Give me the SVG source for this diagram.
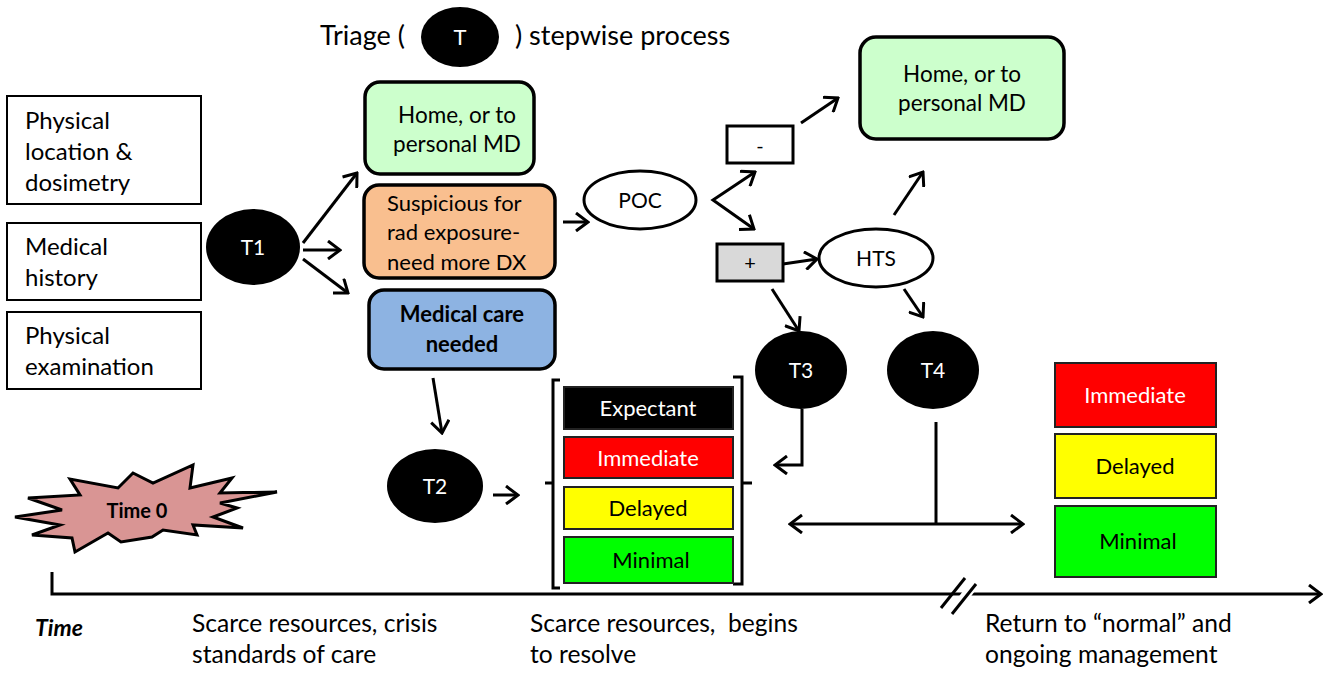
<svg xmlns="http://www.w3.org/2000/svg" width="1334" height="673" viewBox="0 0 1334 673">
<defs>
<style>
text{font-family:Lato,"Liberation Sans",sans-serif;font-size:24px;fill:#000;white-space:pre}
.c{text-anchor:middle}
.w{fill:#fff}
.b{font-weight:bold}
.box{stroke:#000;stroke-width:2;fill:#fff}
.rb{stroke:#000;stroke-width:3.5}
.tri{stroke:#222;stroke-width:2}
.ell{fill:#000}
.oval{fill:#fff;stroke:#000;stroke-width:3}
.ln{stroke:#000;stroke-width:3;fill:none}
.ar{stroke:#000;stroke-width:3;fill:none;marker-end:url(#ah)}
</style>
<marker id="ah" viewBox="0 0 16 20" refX="14" refY="10" markerWidth="16" markerHeight="20" markerUnits="userSpaceOnUse" orient="auto-start-reverse">
<path d="M2,1 L14,10 L2,19" fill="none" stroke="#000" stroke-width="3"/>
</marker>
</defs>
<rect width="1334" height="673" fill="#fff"/>

<g id="title">
<text x="320" y="45" style="font-size:27px">Triage (</text>
<ellipse cx="460" cy="37" rx="39" ry="30" class="ell"/>
<text x="460" y="45" class="c w" style="font-size:22px">T</text>
<text x="515" y="45" style="font-size:27px">) stepwise process</text>
</g>

<g id="physical-location">
<rect x="7" y="96" width="194" height="108" class="box"/>
<text x="25" y="129">Physical</text>
<text x="25" y="160">location &amp;</text>
<text x="25" y="191">dosimetry</text>
</g>
<g id="medical-history">
<rect x="7" y="223" width="194" height="77" class="box"/>
<text x="25" y="255">Medical</text>
<text x="25" y="286">history</text>
</g>
<g id="physical-exam">
<rect x="7" y="312" width="194" height="77" class="box"/>
<text x="25" y="344">Physical</text>
<text x="25" y="375">examination</text>
</g>

<g id="T1">
<ellipse cx="253" cy="247" rx="47" ry="38" class="ell"/>
<text x="253" y="255" class="c w" style="font-size:21px">T1</text>
</g>

<g id="home1">
<rect x="365" y="82" width="169" height="92" rx="15" class="rb" fill="#ccffcc"/>
<text x="457" y="123" class="c" style="font-size:22.5px">Home, or to</text>
<text x="457" y="152" class="c" style="font-size:22.5px">personal MD</text>
</g>
<g id="suspicious">
<rect x="364" y="185" width="191" height="93" rx="15" class="rb" fill="#f9bf8f"/>
<text x="387" y="211" style="font-size:22px">Suspicious for</text>
<text x="387" y="240" style="font-size:22px">rad exposure-</text>
<text x="387" y="270" style="font-size:22px">need more DX</text>
</g>
<g id="medical-care">
<rect x="369" y="290" width="186" height="79" rx="15" class="rb" fill="#8db3e2"/>
<text x="462" y="322" class="c b" style="font-size:22px">Medical care</text>
<text x="462" y="352" class="c b" style="font-size:22px">needed</text>
</g>

<g id="POC">
<ellipse cx="640" cy="200" rx="56" ry="29" class="oval"/>
<text x="640" y="208" class="c" style="font-size:21px">POC</text>
</g>
<g id="neg">
<rect x="727" y="126" width="66" height="37" class="rb" fill="#fff" style="stroke-width:3"/>
<text x="760" y="153" class="c" style="font-size:20px">-</text>
</g>
<g id="pos">
<rect x="717" y="244" width="66" height="37" class="rb" fill="#d9d9d9" style="stroke-width:3"/>
<text x="750" y="270" class="c" style="font-size:20px">+</text>
</g>
<g id="HTS">
<ellipse cx="876" cy="258" rx="57" ry="29" class="oval"/>
<text x="876" y="266" class="c" style="font-size:21px">HTS</text>
</g>
<g id="home2">
<rect x="860" y="37" width="204" height="102" rx="16" class="rb" fill="#ccffcc"/>
<text x="962" y="82" class="c" style="font-size:22.5px">Home, or to</text>
<text x="962" y="111" class="c" style="font-size:22.5px">personal MD</text>
</g>
<g id="T3">
<ellipse cx="801" cy="370" rx="46" ry="39" class="ell"/>
<text x="801" y="378" class="c w" style="font-size:21px">T3</text>
</g>
<g id="T4">
<ellipse cx="933" cy="370" rx="46" ry="39" class="ell"/>
<text x="933" y="378" class="c w" style="font-size:21px">T4</text>
</g>
<g id="T2">
<ellipse cx="435" cy="486" rx="48" ry="37" class="ell"/>
<text x="435" y="494" class="c w" style="font-size:21px">T2</text>
</g>

<g id="triage-categories">
<path d="M560,380 L553,380 L553,588 L560,588 M545,483 L553,483" class="ln"/>
<path d="M733,377 L742,377 L742,584 L733,584 M742,483 L752,483" class="ln"/>
<rect x="564" y="387" width="169" height="42" class="tri" fill="#000"/>
<text x="648" y="416" class="c w" style="font-size:22px">Expectant</text>
<rect x="564" y="437" width="169" height="41" class="tri" fill="#ff0000"/>
<text x="648" y="466" class="c w" style="font-size:22px">Immediate</text>
<rect x="564" y="487" width="169" height="42" class="tri" fill="#ffff00"/>
<text x="648" y="516" class="c" style="font-size:22px">Delayed</text>
<rect x="564" y="537" width="169" height="46" class="tri" fill="#00ff00"/>
<text x="651" y="568" class="c" style="font-size:22px">Minimal</text>
</g>

<g id="final-categories">
<rect x="1055" y="363" width="161" height="64" class="tri" fill="#ff0000"/>
<text x="1135" y="403" class="c w" style="font-size:22px">Immediate</text>
<rect x="1055" y="434" width="161" height="64" class="tri" fill="#ffff00"/>
<text x="1135" y="474" class="c" style="font-size:22px">Delayed</text>
<rect x="1055" y="506" width="161" height="71" class="tri" fill="#00ff00"/>
<text x="1138" y="549" class="c" style="font-size:22px">Minimal</text>
</g>

<g id="time0">
<polygon points="15,517 62,510 28,498 80,495 70,479 118,488 133,473 153,483 193,465 190,488 232,478 220,493 277,492 220,503 237,508 213,517 243,528 193,525 197,535 163,530 152,537 121,542 108,533 75,552 72,538 32,535 60,525" fill="#d99594" stroke="#000" stroke-width="3" stroke-linejoin="miter"/>
<text x="137" y="518" class="c b" style="font-size:20px">Time 0</text>
</g>

<g id="connectors">
<line x1="303" y1="243" x2="357" y2="173" class="ar"/>
<line x1="303" y1="250" x2="340" y2="250" class="ar"/>
<line x1="303" y1="259" x2="348" y2="293" class="ar"/>
<line x1="563" y1="222" x2="588" y2="222" class="ar"/>
<polyline points="755,172 713,200 754,229" class="ln" style="marker-start:url(#ah);marker-end:url(#ah)"/>
<line x1="801" y1="123" x2="838" y2="98" class="ar"/>
<line x1="783" y1="264" x2="817" y2="259" class="ar"/>
<line x1="894" y1="215" x2="923" y2="172" class="ar"/>
<line x1="904" y1="289" x2="923" y2="317" class="ar"/>
<line x1="772" y1="289" x2="799" y2="331" class="ar"/>
<line x1="433" y1="378" x2="442" y2="433" class="ar"/>
<line x1="493" y1="495" x2="518" y2="495" class="ar"/>
<polyline points="802,409 802,465 775,465" class="ar"/>
<line x1="936" y1="422" x2="936" y2="524" class="ln"/>
<line x1="790" y1="524" x2="1023" y2="524" class="ln" style="marker-start:url(#ah);marker-end:url(#ah)"/>
</g>

<g id="timeline">
<polyline points="52,572 52,594 1321,594" class="ln" style="marker-end:url(#ah)"/>
<polygon points="948,611 960,611 981,583 969,583" fill="#fff"/>
<line x1="941" y1="608" x2="965" y2="578" class="ln"/>
<line x1="952" y1="614" x2="976" y2="584" class="ln"/>
<text x="35" y="636" class="b" style="font-style:italic;font-size:23px">Time</text>
<text x="192" y="632" style="font-size:24.6px">Scarce resources, crisis</text>
<text x="192" y="663" style="font-size:24.6px">standards of care</text>
<text x="530" y="632" style="font-size:24.6px">Scarce resources,  begins</text>
<text x="530" y="663" style="font-size:24.6px">to resolve</text>
<text x="985" y="632" style="font-size:24.6px">Return to “normal” and</text>
<text x="985" y="663" style="font-size:24.6px">ongoing management</text>
</g>
</svg>
